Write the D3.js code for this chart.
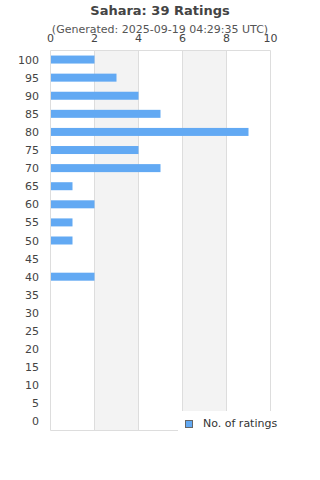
<!DOCTYPE html>
<html><head><meta charset="utf-8">
<script src="https://cdn.jsdelivr.net/npm/d3@7"></script>
<style>body{margin:0;background:#fff;}svg{display:block;font-family:"DejaVu Sans",sans-serif;}</style>
</head><body>
<script>
const title = "Sahara: 39 Ratings";
const subtitle = "(Generated: 2025-09-19 04:29:35 UTC)";
const categories = ["100","95","90","85","80","75","70","65","60","55","50","45","40","35","30","25","20","15","10","5","0"];
const ratings = [2,3,4,5,9,4,5,1,2,1,1,0,2,0,0,0,0,0,0,0,0];
const xTicks = [0,2,4,6,8,10];
const seriesName = "No. of ratings";

const W=320,H=480, L=50.5, R=270.5, T=50.5, B=430.5;
const svg=d3.select("body").append("svg").attr("width",W).attr("height",H);
const x=d3.scaleLinear().domain([0,10]).range([L,R]);
const y=d3.scaleBand().domain(categories).range([T,B]);

// alternating bands
for(let i=0;i<xTicks.length-1;i++){
  if(i%2===1) svg.append("rect").attr("x",x(xTicks[i])).attr("y",T).attr("width",x(xTicks[i+1])-x(xTicks[i])).attr("height",B-T).attr("fill","#f3f3f3");
}
// grid lines
svg.selectAll(".g").data(xTicks).enter().append("line")
  .attr("x1",d=>x(d)).attr("x2",d=>x(d)).attr("y1",T).attr("y2",B).attr("stroke","#dddddd").attr("stroke-width",1);
svg.append("line").attr("x1",L).attr("x2",R).attr("y1",T).attr("y2",T).attr("stroke","#dddddd");
svg.append("line").attr("x1",L).attr("x2",R).attr("y1",B).attr("y2",B).attr("stroke","#dddddd");

// bars
svg.selectAll(".bar").data(ratings).enter().append("rect")
  .attr("x",x(0)+0.5).attr("y",(d,i)=>y(categories[i])+y.bandwidth()/2-4)
  .attr("width",d=>Math.max(0,x(d)-x(0)-0.5)).attr("height",d=>d>0?8:0).attr("fill","#62a9f3");

// axes text
svg.append("g").selectAll("text").data(xTicks).enter().append("text")
  .attr("x",d=>x(d)).attr("y",42).attr("text-anchor","middle").attr("font-size",11).attr("fill","#444").text(d=>d);
svg.append("g").selectAll("text").data(categories).enter().append("text")
  .attr("x",39).attr("y",d=>y(d)+y.bandwidth()/2+4).attr("text-anchor","end").attr("font-size",11).attr("fill","#444").text(d=>d);

// title
svg.append("text").attr("x",160).attr("y",15).attr("text-anchor","middle").attr("font-size",13).attr("font-weight","bold").attr("fill","#444").text(title);
svg.append("text").attr("x",160).attr("y",33).attr("text-anchor","middle").attr("font-size",11).attr("fill","#555").text(subtitle);

// legend
svg.append("rect").attr("x",178).attr("y",411).attr("width",112).attr("height",21).attr("fill","#fff");
svg.append("rect").attr("x",185.5).attr("y",420.5).attr("width",7).attr("height",7).attr("fill","#62a9f3").attr("stroke","#666");
svg.append("text").attr("x",203).attr("y",427).attr("font-size",11).attr("fill","#333").text(seriesName);
</script>
</body></html>
